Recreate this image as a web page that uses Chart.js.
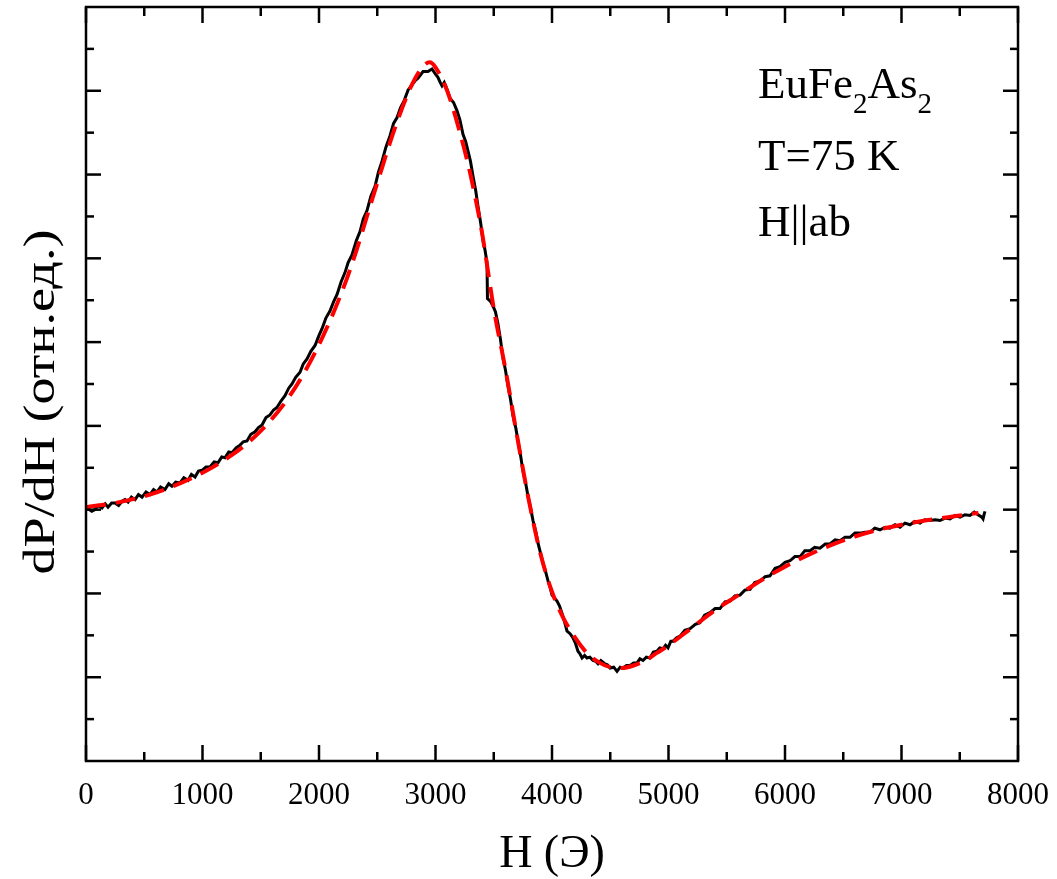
<!DOCTYPE html>
<html>
<head>
<meta charset="utf-8">
<script src="https://cdn.jsdelivr.net/npm/chart.js@4.4.1/dist/chart.umd.min.js"></script>
<style>
  html, body { margin: 0; padding: 0; background: #fff; }
</style>
</head>
<body>
<canvas id="chart" width="1057" height="879"></canvas>
<script>
// measured signal (black) — H in Oe, dP/dH in arbitrary units
const fieldExp = [17,50,77,105,137,165,189,220,249,280,309,335,361,390,421,450,481,515,549,580,609,640,678,710,738,770,807,840,876,905,936,965,996,1030,1064,1100,1133,1165,1193,1225,1253,1290,1322,1350,1382,1415,1451,1480,1511,1545,1579,1610,1639,1675,1708,1740,1768,1800,1837,1865,1897,1930,1966,2000,2026,2060,2094,2125,2155,2190,2223,2250,2283,2320,2352,2380,2412,2445,2481,2510,2541,2575,2609,2640,2670,2700,2730,2765,2798,2825,2850,2893,2935,2970,3000,3021,3040,3056,3075,3090,3110,3124,3155,3185,3210,3236,3260,3279,3300,3322,3345,3365,3388,3408,3425,3442,3446,3470,3494,3515,3536,3558,3579,3600,3622,3645,3665,3690,3708,3730,3751,3775,3794,3815,3837,3860,3880,3900,3923,3945,3966,3985,4000,4020,4043,4065,4086,4110,4129,4155,4180,4200,4223,4240,4258,4280,4300,4325,4352,4375,4395,4420,4455,4475,4498,4530,4558,4585,4609,4640,4670,4700,4730,4755,4781,4810,4841,4870,4901,4925,4953,4975,4996,5020,5039,5070,5099,5140,5185,5230,5270,5310,5356,5400,5442,5485,5528,5570,5614,5655,5700,5740,5785,5830,5871,5915,5957,6000,6043,6085,6129,6170,6215,6255,6300,6345,6386,6430,6472,6515,6558,6600,6644,6685,6730,6770,6815,6860,6901,6945,6987,7030,7073,7115,7159,7200,7245,7290,7330,7375,7416,7460,7502,7545,7588,7625,7657,7690,7700,7710,7717];
const signalExp = [3.01,2.98,3.00,3.05,3.02,3.07,3.03,3.08,3.08,3.05,3.10,3.12,3.09,3.15,3.12,3.18,3.15,3.21,3.18,3.24,3.21,3.27,3.24,3.31,3.28,3.33,3.32,3.38,3.35,3.42,3.39,3.46,3.47,3.51,3.51,3.57,3.56,3.63,3.62,3.69,3.68,3.74,3.77,3.81,3.82,3.90,3.93,3.98,4.01,4.10,4.13,4.19,4.22,4.30,4.36,4.45,4.50,4.58,4.64,4.74,4.80,4.89,4.96,5.08,5.16,5.29,5.37,5.48,5.57,5.72,5.83,5.95,6.04,6.21,6.32,6.47,6.57,6.74,6.86,7.03,7.16,7.33,7.46,7.61,7.68,7.80,7.88,8.01,8.07,8.12,8.15,8.23,8.23,8.26,8.20,8.16,8.10,8.06,8.10,8.05,7.97,7.91,7.86,7.76,7.65,7.48,7.39,7.28,7.16,6.98,6.81,6.62,6.42,6.21,6.10,5.95,5.52,5.49,5.43,5.36,5.22,5.03,4.81,4.67,4.48,4.31,4.12,3.97,3.82,3.65,3.46,3.31,3.16,3.03,2.87,2.74,2.60,2.49,2.36,2.26,2.15,2.07,1.98,1.95,1.91,1.85,1.76,1.65,1.55,1.52,1.47,1.41,1.31,1.28,1.23,1.26,1.23,1.24,1.20,1.19,1.16,1.20,1.16,1.15,1.11,1.12,1.07,1.12,1.11,1.14,1.14,1.17,1.17,1.22,1.20,1.24,1.23,1.30,1.31,1.35,1.34,1.38,1.35,1.43,1.43,1.47,1.49,1.56,1.58,1.63,1.65,1.74,1.77,1.82,1.82,1.90,1.91,1.97,1.98,2.04,2.05,2.13,2.15,2.20,2.21,2.30,2.32,2.37,2.39,2.44,2.44,2.51,2.51,2.55,2.54,2.59,2.59,2.64,2.63,2.67,2.67,2.72,2.72,2.73,2.73,2.78,2.76,2.79,2.78,2.82,2.79,2.84,2.82,2.86,2.84,2.88,2.87,2.88,2.87,2.90,2.89,2.93,2.91,2.94,2.93,2.97,2.94,2.91,2.89,2.95,2.98];

// fit (red dashed)
const fieldFit = [0,250,500,750,1000,1250,1500,1750,2000,2250,2500,2650,2800,2900,2950,3000,3100,3200,3300,3400,3450,3500,3600,3700,3800,3900,4000,4100,4200,4300,4400,4500,4600,4700,4800,4900,5000,5200,5400,5600,5800,6000,6200,6400,6600,6800,7000,7200,7400,7600,7660];
const signalFit = [3.03,3.08,3.16,3.28,3.44,3.65,3.94,4.36,4.97,5.80,6.90,7.55,8.08,8.30,8.34,8.28,8.00,7.55,7.00,6.30,5.85,5.40,4.68,3.88,3.12,2.48,2.02,1.70,1.47,1.29,1.18,1.12,1.11,1.14,1.20,1.29,1.38,1.59,1.80,1.98,2.16,2.32,2.46,2.58,2.68,2.76,2.82,2.87,2.91,2.95,2.96];

const xMajorTicks = [0,1000,2000,3000,4000,5000,6000,7000,8000];
const xMinorTicks = [500,1500,2500,3500,4500,5500,6500,7500];
const yMajorTicks = [1,2,3,4,5,6,7,8];
const yMinorTicks = [0.5,1.5,2.5,3.5,4.5,5.5,6.5,7.5,8.5];

const labelLines = ['T=75 K', 'H||ab'];
const xTitle = 'H (Э)';
const yTitle = 'dP/dH (отн.ед.)';

const FONT = '"Liberation Serif", "Times New Roman", serif';

const toPoints = (xs, ys) => xs.map((x, i) => ({ x: x, y: ys[i] }));

// frame, inward ticks, titles and the sample label
const framePlugin = {
  id: 'frame',
  afterDatasetsDraw(chart) {
    const ctx = chart.ctx;
    const { left, right, top, bottom } = chart.chartArea;
    const xs = chart.scales.x, ys = chart.scales.y;
    ctx.save();
    ctx.strokeStyle = '#000';
    ctx.lineWidth = 2.5;
    ctx.strokeRect(left, top, right - left, bottom - top);
    const seg = (x1, y1, x2, y2) => { ctx.beginPath(); ctx.moveTo(x1, y1); ctx.lineTo(x2, y2); ctx.stroke(); };
    xMajorTicks.forEach(v => { const p = xs.getPixelForValue(v); seg(p, bottom, p, bottom - 16); seg(p, top, p, top + 16); });
    xMinorTicks.forEach(v => { const p = xs.getPixelForValue(v); seg(p, bottom, p, bottom - 9); seg(p, top, p, top + 9); });
    yMajorTicks.forEach(v => { const p = ys.getPixelForValue(v); seg(left, p, left + 15, p); seg(right, p, right - 15, p); });
    yMinorTicks.forEach(v => { const p = ys.getPixelForValue(v); seg(left, p, left + 8, p); seg(right, p, right - 8, p); });
    ctx.restore();
  },
  afterDraw(chart) {
    const ctx = chart.ctx;
    const { left, right } = chart.chartArea;
    ctx.save();
    ctx.fillStyle = '#000';
    ctx.textBaseline = 'alphabetic';

    // x title
    ctx.font = '46px ' + FONT;
    ctx.textAlign = 'center';
    ctx.fillText(xTitle, (left + right) / 2, 867);

    // y title, stretched along its length like the original
    ctx.save();
    ctx.font = '45px ' + FONT;
    const w = ctx.measureText(yTitle).width;
    ctx.translate(54, 402);
    ctx.rotate(-Math.PI / 2);
    ctx.scale(345 / w, 1);
    ctx.fillText(yTitle, 0, 0);
    ctx.restore();

    // sample label: EuFe2As2 with subscripts
    ctx.textAlign = 'left';
    let x = 758;
    const big = '45px ' + FONT, small = '29px ' + FONT;
    [['EuFe', false], ['2', true], ['As', false], ['2', true]].forEach(([t, sub]) => {
      ctx.font = sub ? small : big;
      ctx.fillText(t, x, sub ? 113 : 98);
      x += ctx.measureText(t).width;
    });
    ctx.font = big;
    ctx.fillText(labelLines[0], 758, 170);
    ctx.fillText(labelLines[1], 758, 236);
    ctx.restore();
  }
};

new Chart(document.getElementById('chart'), {
  type: 'scatter',
  data: {
    datasets: [
      {
        label: 'fit',
        data: toPoints(fieldFit, signalFit),
        showLine: true,
        borderColor: '#ff0000',
        borderWidth: 4,
        borderDash: [20, 10],
        pointRadius: 0,
        cubicInterpolationMode: 'monotone',
        order: 0
      },
      {
        label: 'experiment',
        data: toPoints(fieldExp, signalExp),
        showLine: true,
        borderColor: '#000000',
        borderWidth: 3,
        pointRadius: 0,
        tension: 0,
        order: 1
      }
    ]
  },
  options: {
    responsive: false,
    animation: false,
    devicePixelRatio: 1,
    layout: { padding: { top: 7, right: 39, left: 0, bottom: 0 } },
    plugins: { legend: { display: false }, tooltip: { enabled: false } },
    scales: {
      x: {
        type: 'linear',
        min: 0,
        max: 8000,
        grid: { display: false },
        border: { display: false },
        ticks: {
          stepSize: 1000,
          padding: 8,
          color: '#000',
          maxRotation: 0,
          font: { family: FONT, size: 31 },
          callback: v => xMajorTicks.includes(v) ? String(v) : ''
        },
        afterFit: s => { s.height = 118; }
      },
      y: {
        type: 'linear',
        min: 0,
        max: 9,
        grid: { display: false },
        border: { display: false },
        ticks: { display: false },
        afterFit: s => { s.width = 86; }
      }
    }
  },
  plugins: [framePlugin]
});
</script>
</body>
</html>
